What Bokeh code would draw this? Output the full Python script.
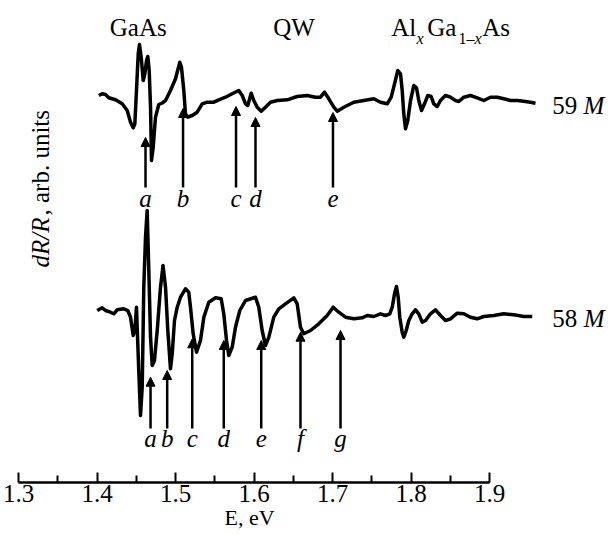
import numpy as np
from bokeh.plotting import figure
from bokeh.models import Range1d, FixedTicker, Arrow, NormalHead, Label, ColumnDataSource
from bokeh.embed import file_html
from bokeh.resources import INLINE

# ---------------- data (photon energy in eV, dR/R in arb. units) ----------------
E_59M = [1.4023, 1.4066, 1.4108, 1.4150, 1.4236, 1.4321, 1.4385, 1.4427, 1.4461, 1.4482,
         1.4503, 1.4525, 1.4541, 1.4563, 1.4589, 1.4609, 1.4631, 1.4647, 1.4665, 1.4682,
         1.4694, 1.4716, 1.4745, 1.4787, 1.4831, 1.4873, 1.4936, 1.5000, 1.5055, 1.5076,
         1.5106, 1.5127, 1.5157, 1.5213, 1.5276, 1.5340, 1.5404, 1.5488, 1.5552, 1.5637,
         1.5722, 1.5806, 1.5850, 1.5892, 1.5921, 1.5964, 1.5997, 1.6041, 1.6092, 1.6146,
         1.6210, 1.6296, 1.6423, 1.6550, 1.6678, 1.6783, 1.6847, 1.6898, 1.6953, 1.7017,
         1.7060, 1.7144, 1.7271, 1.7399, 1.7526, 1.7611, 1.7697, 1.7748, 1.7790, 1.7832,
         1.7866, 1.7888, 1.7908, 1.7930, 1.7959, 1.7994, 1.8036, 1.8070, 1.8099, 1.8134,
         1.8172, 1.8214, 1.8257, 1.8290, 1.8334, 1.8376, 1.8439, 1.8503, 1.8567, 1.8609,
         1.8673, 1.8758, 1.8843, 1.8927, 1.9013, 1.9098, 1.9182, 1.9268, 1.9353, 1.9437,
         1.9522, 1.9586]
R_59M = [0.20, 0.37, 0.30, -0.03, -0.23, -0.63, -1.30, -2.47, -3.03, -2.63,
         0.70, 4.37, 5.30, 4.03, 1.70, 2.37, 3.70, 4.10, 2.70, -0.97,
         -6.30, -4.97, -1.97, -0.70, -0.55, -0.30, 0.70, 1.87, 3.53, 3.03,
         0.70, -1.63, -1.97, -1.80, -1.47, -0.63, -0.47, -0.47, -0.23, 0.03,
         0.37, 0.70, 0.20, -0.63, -0.80, 0.43, -0.30, -0.97, -1.37, -0.97,
         -0.47, -0.30, -0.23, 0.10, 0.20, 0.03, 0.03, 0.53, -0.13, -0.97,
         -1.37, -0.97, -0.47, -0.30, -0.13, -0.47, -0.63, 0.03, 1.37, 2.70,
         2.37, 0.70, -1.63, -3.13, -2.30, -0.30, 1.20, 0.97, -0.30, -1.30,
         -0.63, 0.20, 0.10, -0.63, -0.90, -0.30, 0.20, 0.03, -0.30, -0.40,
         0.03, 0.20, -0.03, -0.30, 0.03, 0.03, -0.13, -0.30, -0.30, -0.37,
         -0.47, -0.57]

E_58M = [1.4003, 1.4066, 1.4108, 1.4172, 1.4214, 1.4257, 1.4341, 1.4392, 1.4427, 1.4461,
         1.4482, 1.4503, 1.4532, 1.4554, 1.4576, 1.4596, 1.4618, 1.4639, 1.4660, 1.4682,
         1.4703, 1.4732, 1.4767, 1.4809, 1.4841, 1.4873, 1.4902, 1.4936, 1.4958, 1.4987,
         1.5022, 1.5064, 1.5127, 1.5169, 1.5191, 1.5225, 1.5268, 1.5318, 1.5361, 1.5424,
         1.5510, 1.5582, 1.5615, 1.5650, 1.5679, 1.5722, 1.5764, 1.5819, 1.5892, 1.6019,
         1.6061, 1.6104, 1.6146, 1.6189, 1.6252, 1.6316, 1.6401, 1.6507, 1.6550, 1.6592,
         1.6634, 1.6720, 1.6825, 1.6932, 1.7009, 1.7080, 1.7166, 1.7271, 1.7378, 1.7442,
         1.7526, 1.7611, 1.7675, 1.7730, 1.7761, 1.7790, 1.7815, 1.7837, 1.7857, 1.7888,
         1.7908, 1.7939, 1.7972, 1.8015, 1.8057, 1.8099, 1.8143, 1.8185, 1.8248, 1.8312,
         1.8376, 1.8439, 1.8503, 1.8589, 1.8673, 1.8758, 1.8843, 1.8927, 1.9055, 1.9182,
         1.9310, 1.9437, 1.9544]
R_58M = [0.00, 0.27, 0.00, -0.17, -0.33, 0.07, 0.17, 0.00, -0.67, -2.50,
         -2.00, 0.33, -6.00, -10.50, -7.67, 2.33, 7.33, 10.00, 4.00, -2.67,
         -5.50, -5.00, -2.00, 2.33, 4.50, 2.33, -2.00, -5.83, -4.33, -1.00,
         0.33, 1.33, 2.17, 1.83, 0.33, -2.33, -4.17, -3.00, -0.67, 0.83,
         1.27, 1.17, -0.33, -3.00, -4.50, -3.67, -1.67, 0.00, 1.00, 1.33,
         0.33, -2.00, -3.50, -2.67, -0.67, 0.17, 0.67, 1.27, 0.67, -1.67,
         -2.33, -2.00, -1.33, -0.50, 0.33, -0.17, -0.67, -0.83, -0.73, -0.50,
         -0.60, -0.33, -0.50, -0.33, 0.33, 1.67, 2.40, 1.33, -0.67, -2.17,
         -2.67, -2.00, -1.00, -0.33, 0.07, -0.33, -1.17, -1.00, -0.33, 0.07,
         -0.50, -1.00, -0.83, -0.27, -0.33, -0.67, -0.83, -0.60, -0.50, -0.33,
         -0.43, -0.60, -0.60]

OFFSET_59M = 38.5
OFFSET_58M = 17.2

# transition markers (arrows): energy, arrow tip (relative to curve), label
marks_59M = ["a", "b", "c", "d", "e"]
marks_59M_E = [1.4618, 1.5096, 1.5771, 1.6019, 1.7006]
marks_59M_tip = [-4.0, -1.1, -0.9, -2.0, -1.5]
marks_59M_tail = -9.0
marks_59M_lab = -10.97

marks_58M = ["a", "b", "c", "d", "e", "f", "g"]
marks_58M_E = [1.4682, 1.4894, 1.5213, 1.5615, 1.6092, 1.6592, 1.7102]
marks_58M_tip = [-6.67, -6.0, -2.83, -3.0, -3.0, -2.17, -2.0]
marks_58M_tail = -11.8
marks_58M_lab = -13.67

major_ticks = [1.3, 1.4, 1.5, 1.6, 1.7, 1.8, 1.9]
minor_ticks = [1.35, 1.45, 1.55, 1.65, 1.75, 1.85]

FONT = "Liberation Serif"
NBSP = "\u00a0"
MID = 0.3375 / 10.0   # baseline -> middle of the font box, in data units per px of font size

# ---------------- figure ----------------
p = figure(width=608, height=536, output_backend="svg", toolbar_location=None, title=None,
           x_range=Range1d(1.27707, 2.05159), y_range=Range1d(0, 48.2),
           y_axis_location=None, min_border_left=0, min_border_right=0,
           min_border_top=0, min_border_bottom=54)
p.outline_line_color = None
p.grid.visible = False
p.background_fill_color = "white"

ax = p.xaxis[0]
ax.bounds = (1.3, 1.9)
ax.ticker = FixedTicker(ticks=major_ticks, minor_ticks=minor_ticks)
ax.axis_line_width = 2.5
ax.axis_line_color = "black"
ax.major_tick_in = 10
ax.major_tick_out = 0
ax.minor_tick_in = 7
ax.minor_tick_out = 0
ax.major_tick_line_width = 2
ax.minor_tick_line_width = 2
ax.major_label_text_font = FONT
ax.major_label_text_font_size = "25px"
ax.major_label_text_color = "black"
ax.major_label_standoff = 2
# label padded on the right so that it sits centred under the 1.3-1.9 axis
ax.axis_label = "E, eV" + NBSP * 20
ax.axis_label_text_font = FONT
ax.axis_label_text_font_size = "22px"
ax.axis_label_text_font_style = "normal"
ax.axis_label_text_color = "black"
ax.axis_label_standoff = 0

y59 = [v + OFFSET_59M for v in R_59M]
y58 = [v + OFFSET_58M for v in R_58M]
p.line(E_59M, y59, line_color="black", line_width=3.5, line_join="round")
p.line(E_58M, y58, line_color="black", line_width=3.5, line_join="round")

def add_marks(names, Es, tips, tail, lab, off):
    src = ColumnDataSource(dict(x0=Es, y0=[tail + off] * len(Es),
                                x1=Es, y1=[t + off for t in tips]))
    p.add_layout(Arrow(source=src, x_start="x0", y_start="y0", x_end="x1", y_end="y1",
                       line_width=2.5, line_color="black",
                       end=NormalHead(size=9, fill_color="black", line_color="black")))
    for n, e in zip(names, Es):
        p.add_layout(Label(x=e, y=lab + off + MID * 25, text=n, text_font=FONT,
                           text_font_size="25px", text_font_style="italic",
                           text_align="center", text_baseline="middle", text_color="black"))

add_marks(marks_59M, marks_59M_E, marks_59M_tip, marks_59M_tail, marks_59M_lab, OFFSET_59M)
add_marks(marks_58M, marks_58M_E, marks_58M_tip, marks_58M_tail, marks_58M_lab, OFFSET_58M)

def lab(x, y, t, size=25, style="normal"):
    p.add_layout(Label(x=x, y=y + MID * size, text=t, text_font=FONT,
                       text_font_size=f"{size}px", text_font_style=style,
                       text_align="left", text_baseline="middle", text_color="black"))

# region titles
lab(1.4163, 44.7, "GaAs")
lab(1.6245, 44.7, "QW")
lab(1.7748, 44.7, "Al")
lab(1.8070, 43.87, "x", size=16, style="italic")
lab(1.8206, 44.7, "Ga")
lab(1.8605, 43.87, "1\u2013", size=16)
lab(1.8809, 43.87, "x", size=16, style="italic")
lab(1.8907, 44.7, "As")

# sample labels
lab(1.9799, 36.9, "59")
lab(2.0196, 36.9, "M", style="italic")
lab(1.9799, 15.53, "58")
lab(2.0202, 15.53, "M", style="italic")

# y label (rotated, reading upwards)
for yy, t, st in [(21.5, "dR/R", "italic"), (26.7, ", arb. units", "normal")]:
    p.add_layout(Label(x=1.32747, y=yy, text=t, text_font=FONT, text_font_size="25px",
                       text_font_style=st, text_align="left", text_baseline="middle",
                       angle=np.pi / 2, text_color="black"))

open("out.html", "w").write(file_html(p, INLINE))
